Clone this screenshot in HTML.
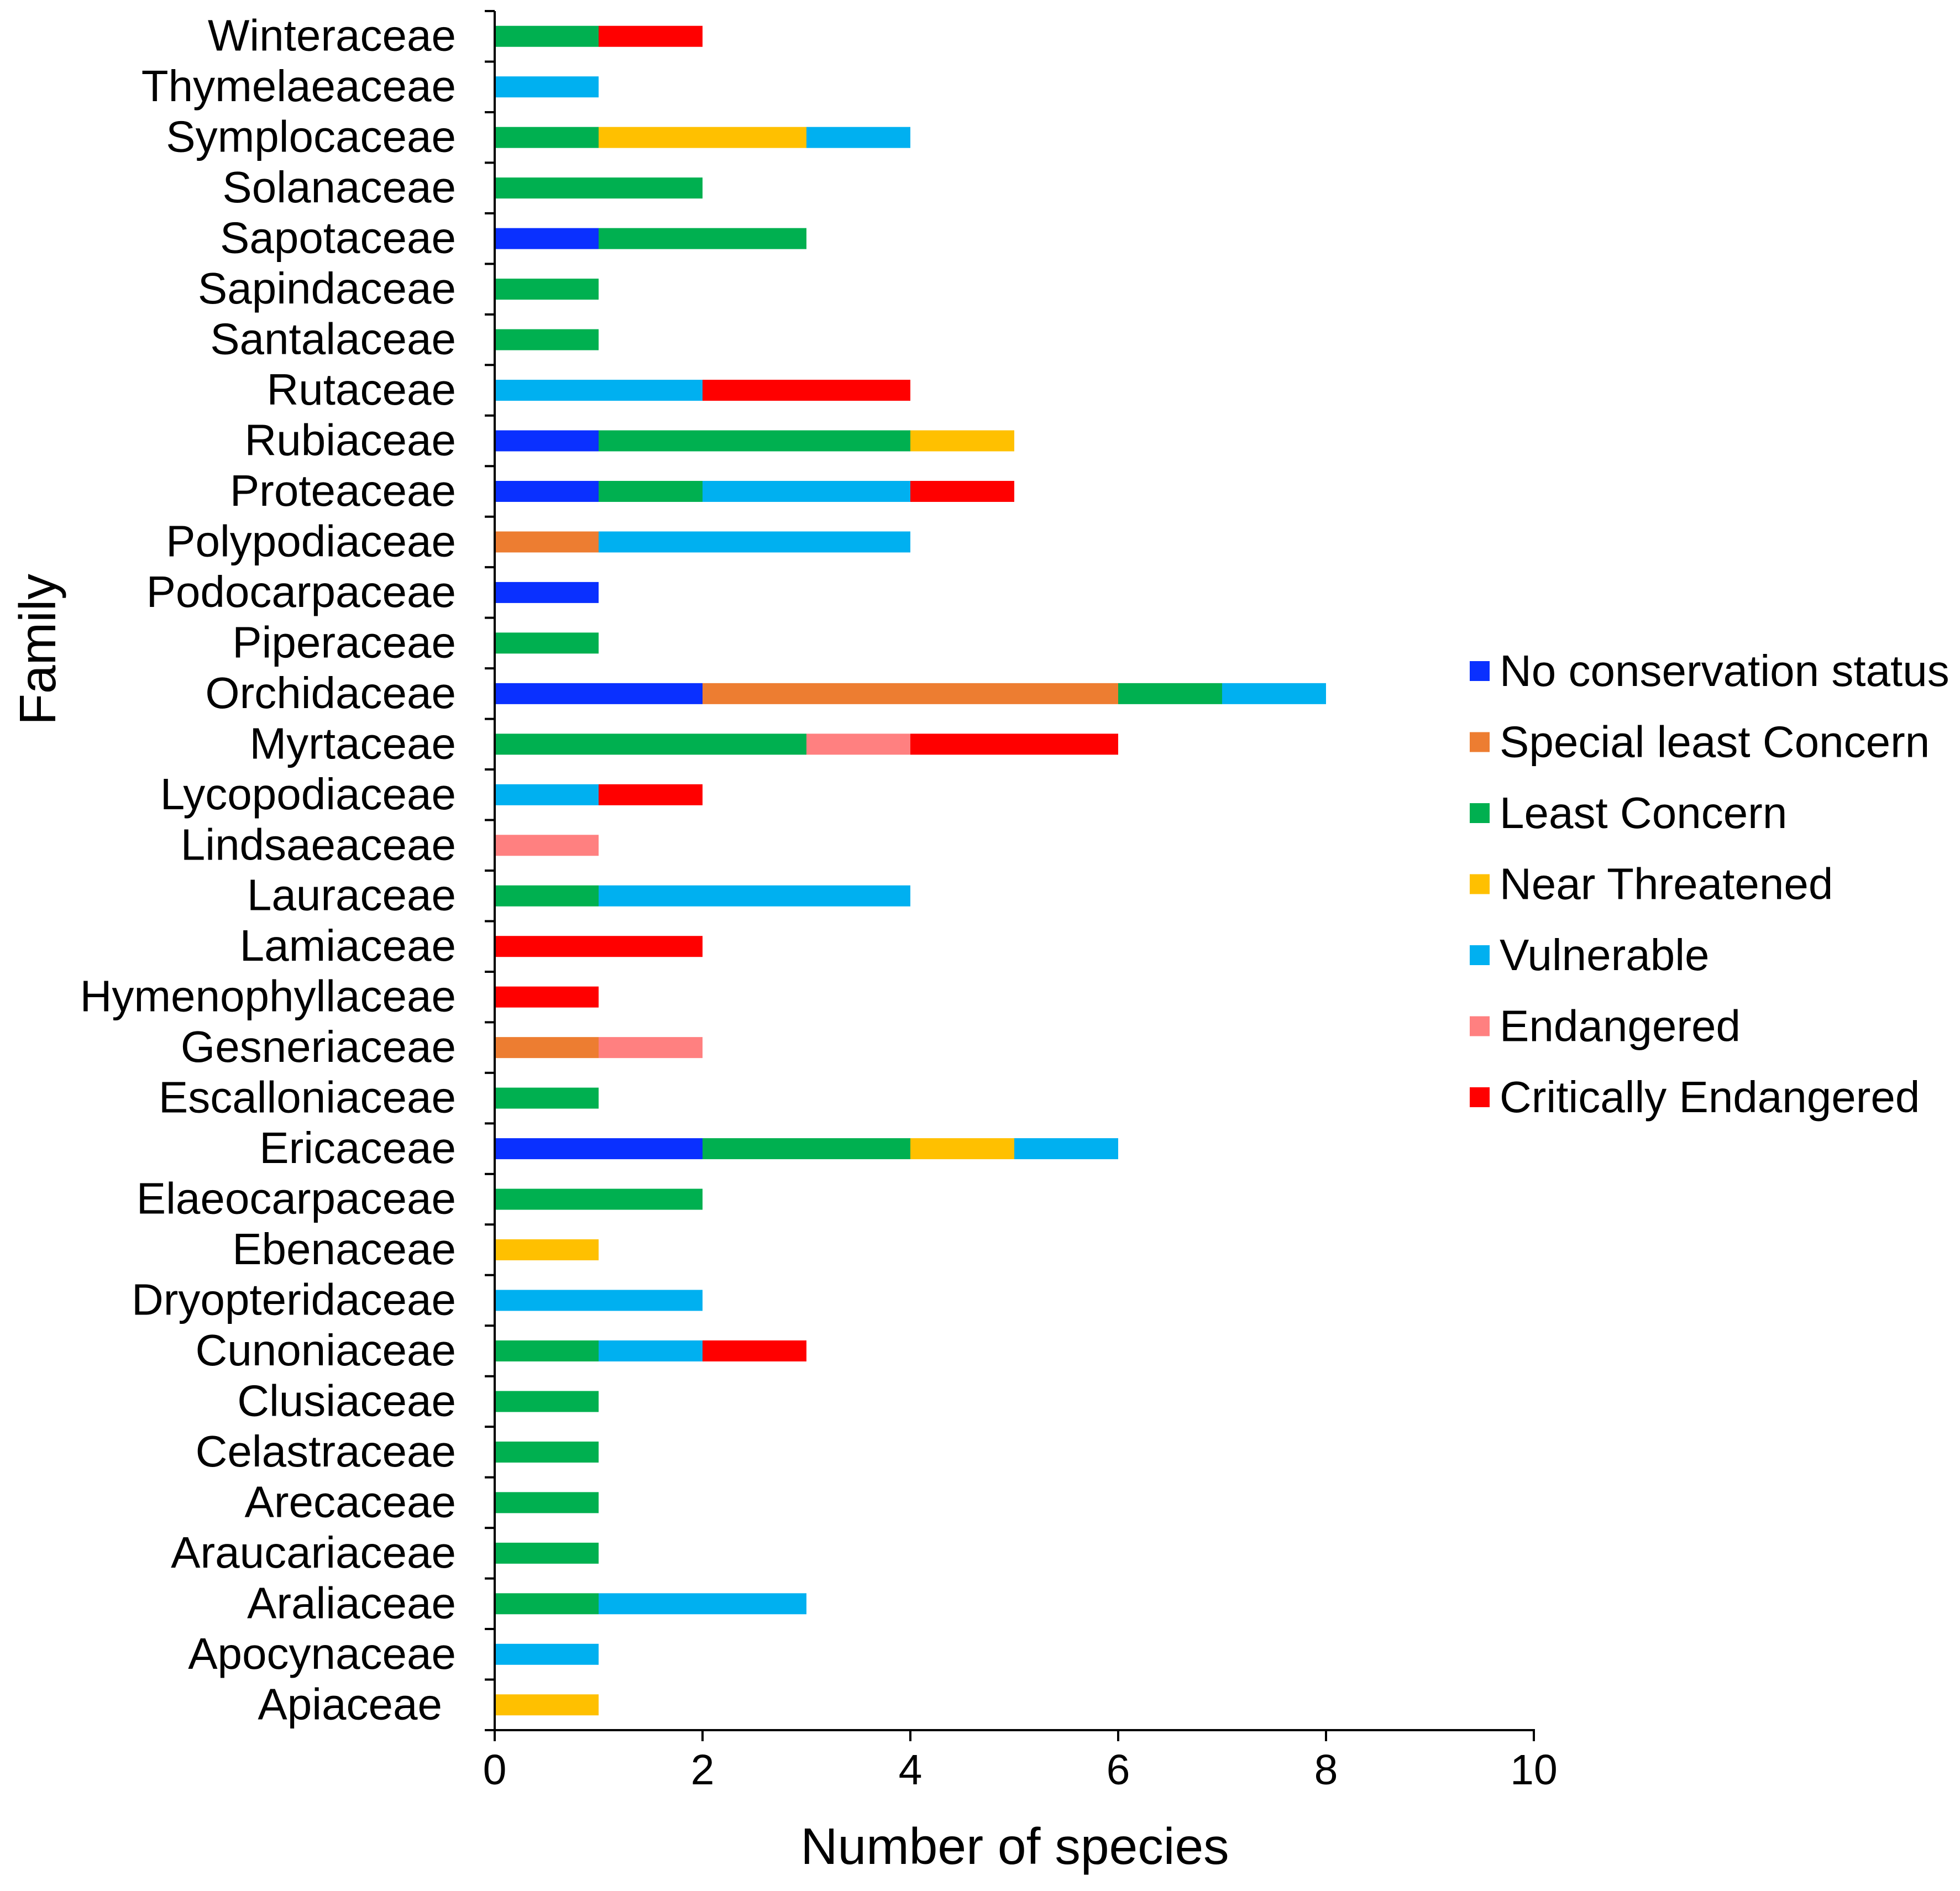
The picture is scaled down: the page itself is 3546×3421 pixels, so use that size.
<!DOCTYPE html>
<html><head><meta charset="utf-8"><style>
html,body{margin:0;padding:0;background:#fff;}
svg{display:block;font-family:"Liberation Sans",Arial,sans-serif;}
</style></head><body>
<svg id="chart" width="3546" height="3421" viewBox="0 0 3546 3421" xmlns="http://www.w3.org/2000/svg">
<rect width="3546" height="3421" fill="#fff"/>
<g id="bars"></g>
<g id="axes"></g>
<g id="legend"></g>
<text x="1836" y="3372" font-size="93" text-anchor="middle" fill="#000">Number of species</text>
<text transform="translate(100,1175) rotate(-90)" font-size="93" text-anchor="middle" fill="#000">Family</text>
</svg>
<script>
const categories = ["Winteraceae","Thymelaeaceae","Symplocaceae","Solanaceae","Sapotaceae","Sapindaceae","Santalaceae","Rutaceae","Rubiaceae","Proteaceae","Polypodiaceae","Podocarpaceae","Piperaceae","Orchidaceae","Myrtaceae","Lycopodiaceae","Lindsaeaceae","Lauraceae","Lamiaceae","Hymenophyllaceae","Gesneriaceae","Escalloniaceae","Ericaceae","Elaeocarpaceae","Ebenaceae","Dryopteridaceae","Cunoniaceae","Clusiaceae","Celastraceae","Arecaceae","Araucariaceae","Araliaceae","Apocynaceae","Apiaceae"];
const seriesNames = ["No conservation status","Special least Concern","Least Concern","Near Threatened","Vulnerable","Endangered","Critically Endangered"];
const seriesColors = ["#0a30ff","#ed7d31","#00b050","#ffc000","#00b0f0","#ff8080","#ff0000"];
const noStatus      = [0,0,0,0,1,0,0,0,1,1,0,1,0,2,0,0,0,0,0,0,0,0,2,0,0,0,0,0,0,0,0,0,0,0];
const specialLC     = [0,0,0,0,0,0,0,0,0,0,1,0,0,4,0,0,0,0,0,0,1,0,0,0,0,0,0,0,0,0,0,0,0,0];
const leastConcern  = [1,0,1,2,2,1,1,0,3,1,0,0,1,1,3,0,0,1,0,0,0,1,2,2,0,0,1,1,1,1,1,1,0,0];
const nearThreat    = [0,0,2,0,0,0,0,0,1,0,0,0,0,0,0,0,0,0,0,0,0,0,1,0,1,0,0,0,0,0,0,0,0,1];
const vulnerable    = [0,1,1,0,0,0,0,2,0,2,3,0,0,1,0,1,0,3,0,0,0,0,1,0,0,2,1,0,0,0,0,2,1,0];
const endangered    = [0,0,0,0,0,0,0,0,0,0,0,0,0,0,1,0,1,0,0,0,1,0,0,0,0,0,0,0,0,0,0,0,0,0];
const critEnd       = [1,0,0,0,0,0,0,2,0,1,0,0,0,0,2,1,0,0,2,1,0,0,0,0,0,0,1,0,0,0,0,0,0,0];
const xTicks = [0,2,4,6,8,10];

const series = [noStatus,specialLC,leastConcern,nearThreat,vulnerable,endangered,critEnd];
const NS="http://www.w3.org/2000/svg";
const X0=895, X1=2775, XMAX=10, YTOP=20, YBOT=3130;
const band=(YBOT-YTOP)/categories.length, barH=38;
const xs=v=>X0+(X1-X0)*v/XMAX;
const yc=i=>YTOP+(i+0.5)*band;
function mk(t,a,p){const e=document.createElementNS(NS,t);for(const k in a)e.setAttribute(k,a[k]);p.appendChild(e);return e;}
const bars=document.getElementById('bars'), axes=document.getElementById('axes'), leg=document.getElementById('legend');
categories.forEach((c,i)=>{
  let acc=0;
  series.forEach((s,j)=>{
    const v=s[i]; if(!v) return;
    const r=mk('rect',{x:xs(acc),y:yc(i)-barH/2,width:xs(acc+v)-xs(acc),height:barH,fill:seriesColors[j]},bars);
    
    
    acc+=v;
  });
  const t=mk('text',{x:c==="Apiaceae"?800:825,y:yc(i)+26,'font-size':80,'text-anchor':'end',fill:'#000'},axes);
  t.textContent=c;
  
  
});
mk('line',{x1:X0,y1:YTOP,x2:X0,y2:YBOT,stroke:'#000','stroke-width':4},axes);
mk('line',{x1:X0-2,y1:YBOT,x2:X1+2,y2:YBOT,stroke:'#000','stroke-width':4},axes);
for(let i=0;i<=categories.length;i++){const y=YTOP+i*band;mk('line',{x1:X0-18,y1:y,x2:X0,y2:y,stroke:'#000','stroke-width':4},axes);}
xTicks.forEach(v=>{
  mk('line',{x1:xs(v),y1:YBOT,x2:xs(v),y2:YBOT+20,stroke:'#000','stroke-width':4},axes);
  const t=mk('text',{x:xs(v),y:YBOT+98,'font-size':77,'text-anchor':'middle',fill:'#000'},axes);
  t.textContent=v;
  
  
});
seriesNames.forEach((n,j)=>{
  const y=1214+j*128.5;
  const r=mk('rect',{x:2659,y:y-18,width:36,height:36,fill:seriesColors[j]},leg);
  
  
  const t=mk('text',{x:2713,y:y+27,'font-size':80,fill:'#000'},leg);
  t.textContent=n;
  
  
});
</script>
</body></html>
